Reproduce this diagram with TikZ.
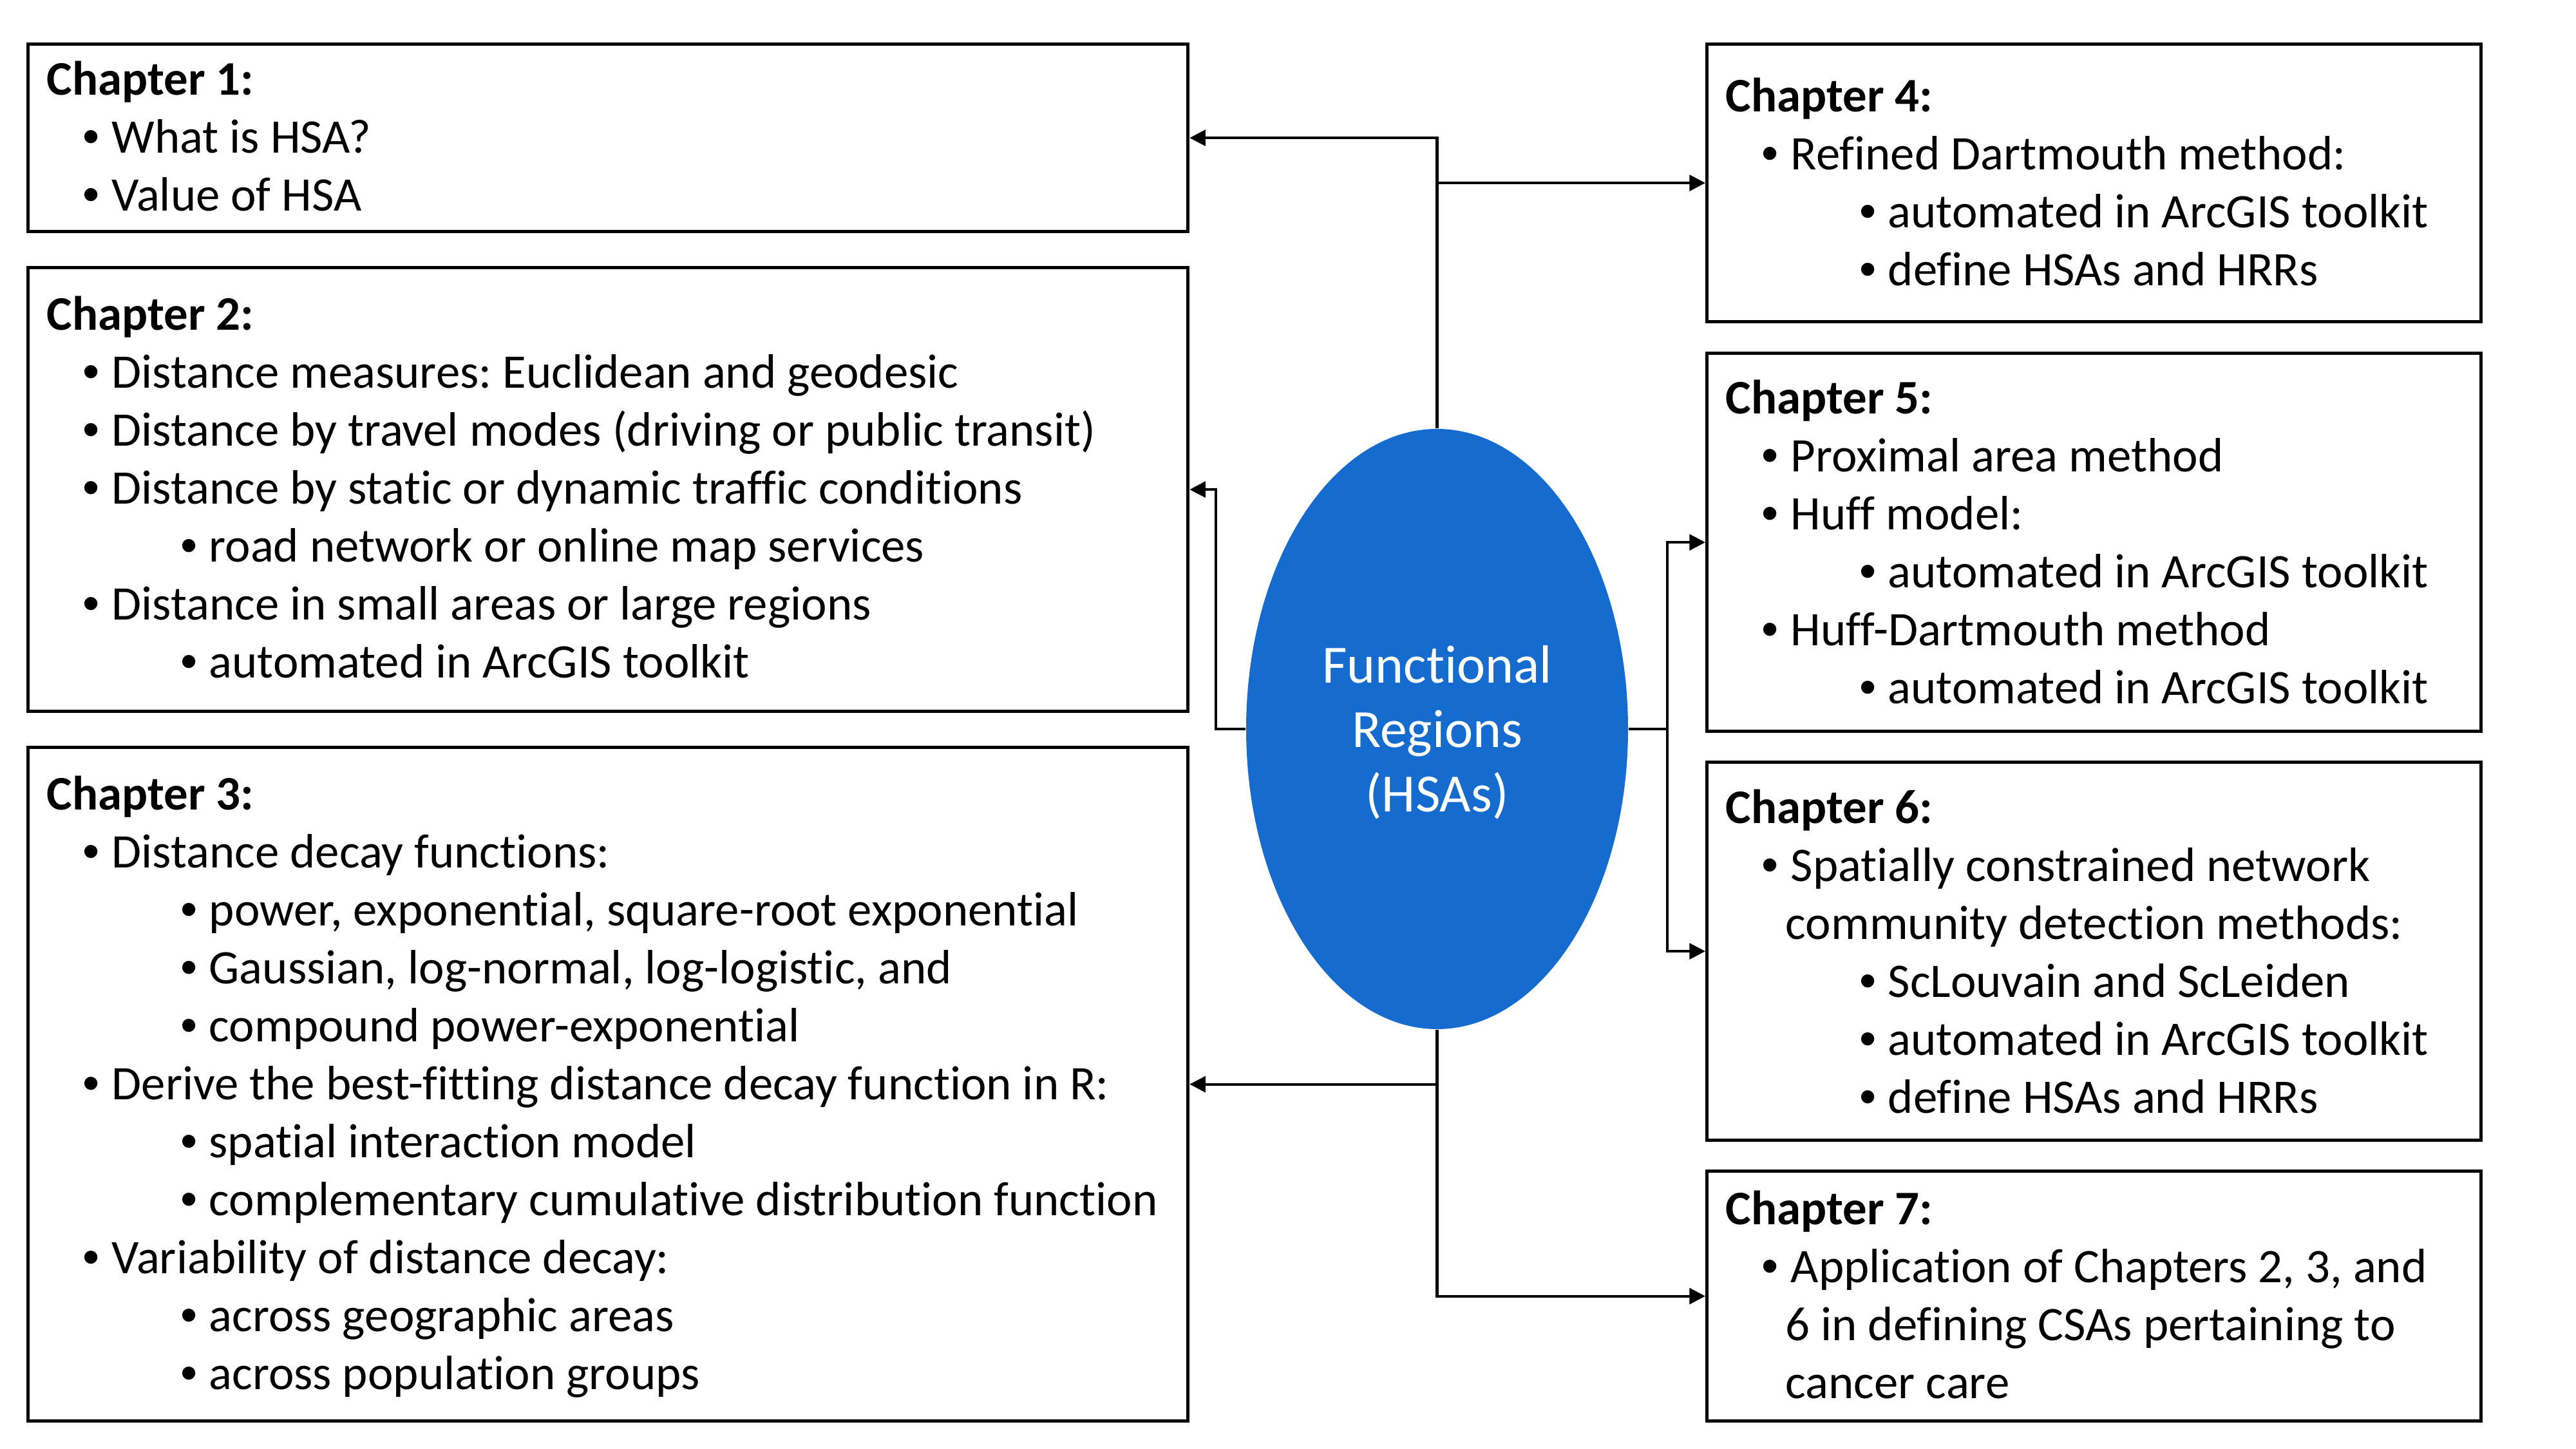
\documentclass[tikz,border=0pt]{standalone}
\usepackage{fontspec}
\setmainfont{Carlito}[Ligatures=CommonOff]
\newfontfamily\bulfont{Liberation Sans}
\usetikzlibrary{arrows.meta,shapes.geometric}
\definecolor{hsablue}{RGB}{21,108,206}
\frenchspacing
\newcommand\bul{{\bulfont\char"2022}}
\newcommand\ttl[1]{\strut\hspace*{0.31cm}\textbf{#1}}
\newcommand\lone[1]{\hspace*{0.87cm}\makebox[0.45cm][l]{\bul}#1}
\newcommand\ltwo[1]{\hspace*{2.39cm}\makebox[0.44cm][l]{\bul}#1}
\newcommand\lcont[1]{\hspace*{1.24cm}#1}
\tikzset{
  chbox/.style={draw=black, line width=1.5pt, anchor=north west, inner sep=0pt},
  chtext/.style={anchor=north west, inner sep=0pt, align=left,
    font=\fontsize{21.3}{25.6}\selectfont},
  conn/.style={draw=black, line width=1.2pt, -{Triangle[length=7pt,width=7pt]}},
}
\begin{document}
\begin{tikzpicture}
\useasboundingbox (0,0) rectangle (40,-22.5);
% boxes
\node[chbox, minimum width=18.01cm, minimum height=2.91cm] (b1) at (0.41,-0.66) {};
\node[chbox, minimum width=18.01cm, minimum height=6.89cm] (b2) at (0.41,-4.13) {};
\node[chbox, minimum width=18.01cm, minimum height=10.46cm] (b3) at (0.41,-11.58) {};
\node[chbox, minimum width=12.02cm, minimum height=4.31cm] (b4) at (26.48,-0.66) {};
\node[chbox, minimum width=12.02cm, minimum height=5.87cm] (b5) at (26.48,-5.46) {};
\node[chbox, minimum width=12.02cm, minimum height=5.87cm] (b6) at (26.48,-11.81) {};
\node[chbox, minimum width=12.02cm, minimum height=3.88cm] (b7) at (26.48,-18.16) {};
% texts
\node[chtext] (t1) at ([yshift=-0.18cm]b1.north west) {%
\ttl{Chapter 1:}\\%
\lone{What is HSA?}\\%
\lone{Value of HSA}};
\node[chtext] (t2) at ([yshift=-0.36cm]b2.north west) {%
\ttl{Chapter 2:}\\%
\lone{Distance measures: Euclidean and geodesic}\\%
\lone{Distance by travel modes (driving or public transit)}\\%
\lone{Distance by static or dynamic traffic conditions}\\%
\ltwo{road network or online map services}\\%
\lone{Distance in small areas or large regions}\\%
\ltwo{automated in ArcGIS toolkit}};
\node[chtext] (t3) at ([yshift=-0.36cm]b3.north west) {%
\ttl{Chapter 3:}\\%
\lone{Distance decay functions:}\\%
\ltwo{power, exponential, square-root exponential}\\%
\ltwo{Gaussian, log-normal, log-logistic, and}\\%
\ltwo{compound power-exponential}\\%
\lone{Derive the best-fitting distance decay function in R:}\\%
\ltwo{spatial interaction model}\\%
\ltwo{complementary cumulative distribution function}\\%
\lone{Variability of distance decay:}\\%
\ltwo{across geographic areas}\\%
\ltwo{across population groups}};
\node[chtext] (t4) at ([yshift=-0.44cm]b4.north west) {%
\ttl{Chapter 4:}\\%
\lone{Refined Dartmouth method:}\\%
\ltwo{automated in ArcGIS toolkit}\\%
\ltwo{define HSAs and HRRs}};
\node[chtext] (t5) at ([yshift=-0.33cm]b5.north west) {%
\ttl{Chapter 5:}\\%
\lone{Proximal area method}\\%
\lone{Huff model:}\\%
\ltwo{automated in ArcGIS toolkit}\\%
\lone{Huff-Dartmouth method}\\%
\ltwo{automated in ArcGIS toolkit}};
\node[chtext] (t6) at ([yshift=-0.34cm]b6.north west) {%
\ttl{Chapter 6:}\\%
\lone{Spatially constrained network}\\%
\lcont{community detection methods:}\\%
\ltwo{ScLouvain and ScLeiden}\\%
\ltwo{automated in ArcGIS toolkit}\\%
\ltwo{define HSAs and HRRs}};
\node[chtext] (t7) at ([yshift=-0.22cm]b7.north west) {%
\ttl{Chapter 7:}\\%
\lone{Application of Chapters 2, 3, and}\\%
\lcont{6 in defining CSAs pertaining to}\\%
\lcont{cancer care}};
% central ellipse
\node[ellipse, fill=hsablue, draw=none, minimum width=5.93cm, minimum height=9.32cm,
  inner sep=0pt] (ell) at (22.315,-11.32) {};
\node[text=white, align=center, inner sep=0pt,
  font=\fontsize{23.8}{28.4}\selectfont] (elltext) at ([yshift=-0.05cm]ell.center)
  {Functional\\Regions\\(HSAs)};
% connectors
\draw[conn] (ell.north) |- (b1.east);
\draw[conn] (ell.north) |- (b4.west);
\draw[conn] (ell.west) -- ++(-0.46,0) |- (b2.east);
\draw[conn] (ell.east) -- ++(0.60,0) |- (b5.west);
\draw[conn] (ell.east) -- ++(0.60,0) |- (b6.west);
\draw[conn] (ell.south) |- (b3.east);
\draw[conn] (ell.south) |- (b7.west);
\end{tikzpicture}
\end{document}
